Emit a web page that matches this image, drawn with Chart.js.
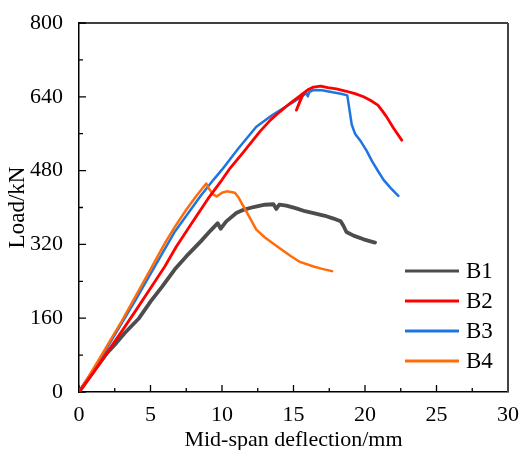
<!DOCTYPE html>
<html>
<head>
<meta charset="utf-8">
<script src="https://cdn.jsdelivr.net/npm/chart.js@4.4.1/dist/chart.umd.min.js"></script>
<style>
  html, body { margin: 0; padding: 0; background: #fff; }
  #wrap { width: 522px; height: 450px; }
</style>
</head>
<body>
<div id="wrap"><canvas id="loadChart"></canvas></div>
<script>
// series
const seriesNames = ["B1", "B2", "B3", "B4"];
const seriesColors = ["#4d4d4d", "#ff0000", "#1f75df", "#ff6c0a"];

const b1Deflection = [0, 1, 2, 2.6, 3.2, 4.2, 5, 5.8, 6.7, 7.5, 8.5, 9.2, 9.7, 9.9, 10.3, 11, 11.5, 12.2, 13, 13.6, 13.8, 14, 14.5, 15.2, 15.8, 16.4, 17.2, 17.8, 18.3, 18.5, 18.7, 19.2, 19.9, 20.7];
const b1Load = [0, 44, 86, 106, 128, 160, 196, 228, 266, 294, 326, 350, 366, 354, 370, 388, 395, 401, 406, 407, 397, 406, 404, 398, 392, 388, 382, 376, 370, 360, 347, 339, 331, 324];

const b2Deflection = [0, 1, 2, 3, 4, 5, 6, 6.8, 7.8, 9, 10, 10.56, 11.5, 12.66, 13.4, 14.06, 14.8, 15.45, 15.65, 15.2, 15.7, 16, 16.4, 16.9, 17.4, 18, 18.7, 19.3, 19.9, 20.4, 20.9, 21.2, 21.5, 22, 22.57];
const b2Load = [0, 42, 87, 132, 178, 225, 272, 315, 362, 418, 460, 485, 520, 565, 590, 608, 627, 642, 647, 611, 648, 655, 661, 663, 660, 657, 652, 647, 640, 632, 622, 610, 597, 572, 546];

const b3Deflection = [0, 1, 2, 3.2, 4, 5, 6.71, 8.5, 9.4, 10, 11.14, 12.4, 13.5, 15, 15.9, 16, 16.1, 16.4, 17, 17.55, 18.4, 18.76, 18.9, 19.07, 19.3, 19.65, 20.1, 20.5, 20.93, 21.3, 21.8, 22.33];
const b3Load = [0, 48, 98, 160, 202, 256, 348, 425, 460, 482, 528, 575, 600, 629, 648, 641, 650, 655, 654, 651, 646, 643, 615, 580, 560, 546, 524, 500, 478, 460, 442, 425];

const b4Deflection = [0, 1, 2, 3, 4, 5, 6, 6.7, 7.5, 8.2, 8.9, 9.1, 9.4, 9.63, 10, 10.33, 10.9, 11.15, 11.4, 11.9, 12.4, 13, 14.06, 14.8, 15.45, 16.4, 17, 17.7];
const b4Load = [0, 50, 102, 154, 210, 266, 322, 358, 395, 425, 452, 440, 428, 424, 432, 435, 432, 422, 408, 380, 352, 335, 311, 295, 282, 272, 267, 262];

const xTickValues = [0, 5, 10, 15, 20, 25, 30];
const yTickValues = [0, 160, 320, 480, 640, 800];

function toPoints(xs, ys) {
    return xs.map((x, i) => ({ x: x, y: ys[i] }));
}

const allSeries = [
    toPoints(b1Deflection, b1Load),
    toPoints(b2Deflection, b2Load),
    toPoints(b3Deflection, b3Load),
    toPoints(b4Deflection, b4Load)
];
const lineWidths = [3.8, 2.8, 2.5, 2.5];
const drawOrder = [3, 0, 2, 1];

const serif = "'Liberation Serif', 'Times New Roman', serif";

// inward ticks, minor ticks and the top/right frame
const framePlugin = {
    id: "frame",
    beforeDatasetsDraw(chart) {
        const { ctx, chartArea } = chart;
        const xs = chart.scales.x;
        const ys = chart.scales.y;
        ctx.save();
        ctx.strokeStyle = "#000";
        ctx.lineWidth = 1.3;
        ctx.beginPath();
        xTickValues.forEach((v, i) => {
            const px = xs.getPixelForValue(v);
            ctx.moveTo(px, chartArea.bottom);
            ctx.lineTo(px, chartArea.bottom - 7);
            if (i < xTickValues.length - 1) {
                const mx = xs.getPixelForValue((v + xTickValues[i + 1]) / 2);
                ctx.moveTo(mx, chartArea.bottom);
                ctx.lineTo(mx, chartArea.bottom - 4);
            }
        });
        yTickValues.forEach((v, i) => {
            const py = ys.getPixelForValue(v);
            ctx.moveTo(chartArea.left, py);
            ctx.lineTo(chartArea.left + 7, py);
            if (i < yTickValues.length - 1) {
                const my = ys.getPixelForValue((v + yTickValues[i + 1]) / 2);
                ctx.moveTo(chartArea.left, my);
                ctx.lineTo(chartArea.left + 4, my);
            }
        });
        ctx.stroke();

        ctx.lineWidth = 1.5;
        ctx.beginPath();
        ctx.moveTo(chartArea.left, chartArea.top);
        ctx.lineTo(chartArea.right, chartArea.top);
        ctx.stroke();
        ctx.strokeStyle = "#444";
        ctx.lineWidth = 2;
        ctx.beginPath();
        ctx.moveTo(chartArea.right, chartArea.top);
        ctx.lineTo(chartArea.right, chartArea.bottom);
        ctx.stroke();
        ctx.restore();
    }
};

// legend inside the plot, lower right
const legendPlugin = {
    id: "insideLegend",
    afterDatasetsDraw(chart) {
        const { ctx, chartArea } = chart;
        const x0 = chartArea.right - 103;
        const x1 = chartArea.right - 49;
        const yStart = chartArea.bottom - 121;
        ctx.save();
        ctx.font = "23px " + serif;
        ctx.textBaseline = "middle";
        ctx.textAlign = "left";
        seriesNames.forEach((name, i) => {
            const y = yStart + i * 30;
            ctx.strokeStyle = seriesColors[i];
            ctx.lineWidth = 2.8;
            ctx.beginPath();
            ctx.moveTo(x0, y);
            ctx.lineTo(x1, y);
            ctx.stroke();
            ctx.fillStyle = "#000";
            ctx.fillText(name, x1 + 7, y + 1);
        });
        ctx.restore();
    }
};

new Chart(document.getElementById("loadChart"), {
    type: "line",
    data: {
        datasets: allSeries.map((pts, i) => ({
            label: seriesNames[i],
            data: pts,
            borderColor: seriesColors[i],
            borderWidth: lineWidths[i],
            pointRadius: 0,
            tension: 0,
            fill: false,
            borderJoinStyle: "round",
            borderCapStyle: "round",
            order: drawOrder[i]
        }))
    },
    options: {
        responsive: true,
        maintainAspectRatio: false,
        animation: false,
        layout: { padding: { top: 23, right: 14, left: 0, bottom: 0 } },
        plugins: {
            legend: { display: false },
            tooltip: { enabled: false }
        },
        scales: {
            x: {
                type: "linear",
                min: 0,
                max: 30,
                afterFit(scale) { scale.height = 58; },
                afterBuildTicks(scale) { scale.ticks = xTickValues.map(v => ({ value: v })); },
                grid: { display: false },
                border: { display: true, color: "#000", width: 1.5 },
                ticks: {
                    color: "#000",
                    padding: 2,
                    maxRotation: 0,
                    font: { family: serif, size: 22 }
                },
                title: {
                    display: true,
                    text: "Mid-span deflection/mm",
                    color: "#000",
                    padding: { top: 0, bottom: 0 },
                    font: { family: serif, size: 22, lineHeight: 0.9 }
                }
            },
            y: {
                type: "linear",
                min: 0,
                max: 800,
                afterFit(scale) { scale.width = 79; },
                afterBuildTicks(scale) { scale.ticks = yTickValues.map(v => ({ value: v })); },
                grid: { display: false },
                border: { display: true, color: "#000", width: 1.5 },
                ticks: {
                    color: "#000",
                    padding: 8,
                    font: { family: serif, size: 22 }
                },
                title: {
                    display: true,
                    text: "Load/kN",
                    color: "#000",
                    padding: { top: 4, bottom: 0 },
                    font: { family: serif, size: 23, lineHeight: 1.2 }
                }
            }
        }
    },
    plugins: [framePlugin, legendPlugin]
});
</script>
</body>
</html>
